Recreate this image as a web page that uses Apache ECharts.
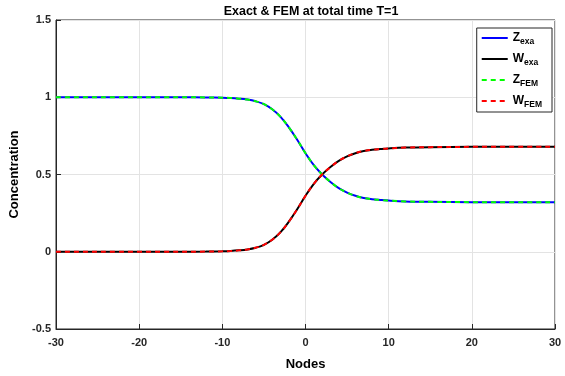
<!DOCTYPE html>
<html>
<head>
<meta charset="utf-8">
<script src="https://cdn.jsdelivr.net/npm/echarts@6/dist/echarts.min.js"></script>
<style>
  html, body { margin: 0; padding: 0; background: #fff; }
  #chart { width: 565px; height: 376px; }
</style>
</head>
<body>
<div id="chart"></div>
<script>
// node positions (x) and concentrations
const nodes = [-30, -15, -12, -10, -9, -8, -7, -6, -5, -4, -3, -2, -1, 0, 1, 2, 3, 4, 5, 6, 7, 8, 9, 10, 12, 15, 20, 30];
const zExa = [1.000, 1.000, 0.999, 0.997, 0.995, 0.991, 0.985, 0.974, 0.955, 0.922, 0.873, 0.805, 0.725, 0.638, 0.560, 0.500, 0.452, 0.412, 0.383, 0.362, 0.348, 0.340, 0.335, 0.331, 0.326, 0.323, 0.321, 0.320];
const wExa = [0.000, 0.000, 0.001, 0.003, 0.005, 0.009, 0.015, 0.026, 0.045, 0.078, 0.127, 0.195, 0.275, 0.362, 0.440, 0.500, 0.548, 0.588, 0.617, 0.638, 0.652, 0.660, 0.665, 0.669, 0.674, 0.677, 0.679, 0.680];
const zFem = zExa.slice();
const wFem = wExa.slice();

const xTicks = [-30, -20, -10, 0, 10, 20, 30];
const yTicks = [-0.5, 0, 0.5, 1, 1.5];

const pairs = (ys) => nodes.map((x, i) => [x, ys[i]]);

const axisColor = "#262626";
const font = "Liberation Sans, Arial, sans-serif";

const chart = echarts.init(document.getElementById("chart"));

const subLabel = {
  "Z_exa": "{m|Z}{s|exa}",
  "W_exa": "{m|W}{s|exa}",
  "Z_FEM": "{m|Z}{s|FEM}",
  "W_FEM": "{m|W}{s|FEM}",
};

chart.setOption({
  animation: false,
  backgroundColor: "#fff",
  title: {
    text: "Exact & FEM at total time T=1",
    left: 306,
    textAlign: "center",
    top: 0,
    textStyle: { fontFamily: font, fontSize: 12.5, fontWeight: "bold", color: "#000" },
  },
  grid: {
    left: 56,
    right: 10,
    top: 20,
    bottom: 43,
    show: true,
    borderColor: axisColor,
    borderWidth: 1,
    backgroundColor: "#fff",
  },
  legend: {
    orient: "vertical",
    right: 13,
    top: 28,
    itemWidth: 26,
    itemHeight: 12,
    itemGap: 7,
    padding: [4, 10, 3, 4],
    borderColor: axisColor,
    borderWidth: 1,
    backgroundColor: "#fff",
    itemStyle: { opacity: 0 },
    data: ["Z_exa", "W_exa", "Z_FEM", "W_FEM"],
    formatter: (name) => subLabel[name],
    textStyle: {
      fontFamily: font,
      rich: {
        m: { fontSize: 12, fontWeight: "bold", color: "#000", fontFamily: font },
        s: { fontSize: 8.5, fontWeight: "bold", color: "#000", fontFamily: font, padding: [7, 0, 0, 0] },
      },
    },
  },
  xAxis: {
    type: "value",
    min: -30,
    max: 30,
    interval: 10,
    name: "Nodes",
    nameLocation: "middle",
    nameGap: 29,
    nameTextStyle: { fontFamily: font, fontSize: 13, fontWeight: "bold", color: "#000" },
    axisLine: { show: true, onZero: false, lineStyle: { color: axisColor } },
    axisTick: { show: true, inside: true, length: 5, lineStyle: { color: axisColor } },
    axisLabel: {
      fontFamily: font, fontSize: 11, fontWeight: "bold", color: axisColor, margin: 8,
      formatter: (v) => (xTicks.includes(v) ? String(v) : ""),
    },
    splitLine: { show: true, lineStyle: { color: "#e3e3e3" } },
  },
  yAxis: {
    type: "value",
    min: -0.5,
    max: 1.5,
    interval: 0.5,
    name: "Concentration",
    nameLocation: "middle",
    nameGap: 26,
    nameTextStyle: { fontFamily: font, fontSize: 13, fontWeight: "bold", color: "#000" },
    axisLine: { show: true, onZero: false, lineStyle: { color: axisColor } },
    axisTick: { show: true, inside: true, length: 5, lineStyle: { color: axisColor } },
    axisLabel: {
      fontFamily: font, fontSize: 11, fontWeight: "bold", color: axisColor, margin: 5,
      formatter: (v) => (yTicks.includes(v) ? String(v) : ""),
    },
    splitLine: { show: true, lineStyle: { color: "#e3e3e3" } },
  },
  series: [
    {
      name: "Z_exa", type: "line", data: pairs(zExa), smooth: 0.4, symbol: "none",
      color: "#0000ff", lineStyle: { width: 2, color: "#0000ff" },
    },
    {
      name: "W_exa", type: "line", data: pairs(wExa), smooth: 0.4, symbol: "none",
      color: "#000000", lineStyle: { width: 2, color: "#000000" },
    },
    {
      name: "Z_FEM", type: "line", data: pairs(zFem), smooth: 0.4, symbol: "none",
      color: "#00ff00", lineStyle: { width: 2, color: "#00ff00", type: [5, 4] },
    },
    {
      name: "W_FEM", type: "line", data: pairs(wFem), smooth: 0.4, symbol: "none",
      color: "#ff0000", lineStyle: { width: 2, color: "#ff0000", type: [5, 4] },
    },
  ],
});

window.addEventListener("resize", () => chart.resize());
</script>
</body>
</html>
